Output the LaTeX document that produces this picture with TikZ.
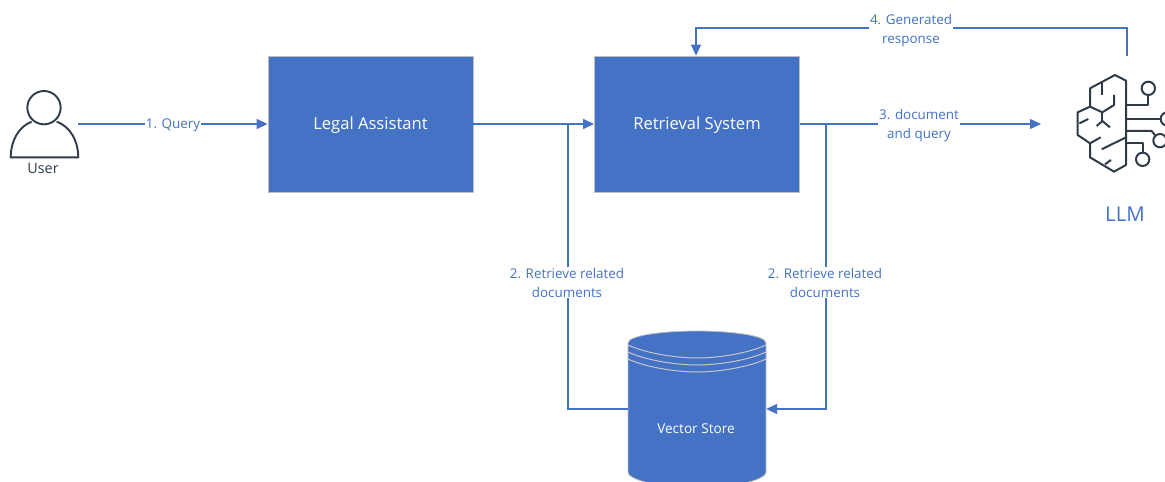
\documentclass[tikz,border=0pt]{standalone}
\usepackage{fontspec}
\setmainfont{Open Sans}
\usetikzlibrary{arrows.meta,calc}
\definecolor{blu}{HTML}{4472C4}
\definecolor{ink}{HTML}{2F3B4A}
\tikzset{
  x=1pt,y=-1pt,
  box/.style={draw=black!25,line width=.8pt,fill=blu,text=white,minimum width=205pt,minimum height=136pt,inner sep=0pt,font=\fontsize{16.6}{18}\selectfont},
  conn/.style={draw=blu,line width=1.4pt,-{Triangle[length=11pt,width=10pt]}},
  plainconn/.style={draw=blu,line width=1.4pt},
  lab/.style={text=blu,fill=white,align=center,inner sep=1pt,font=\fontsize{13.4}{19}\selectfont},
  icon/.style={draw=ink,line width=2pt,line join=round},
}
\begin{document}
\begin{tikzpicture}
\useasboundingbox (0,0) rectangle (1165,482);
\clip (0,0) rectangle (1165,482);
% nodes
\node[box] (legal) at (370.5,124) {\raisebox{-5.5pt}[0pt][0pt]{Legal Assistant}};
\node[box] (retr) at (697,124) {\raisebox{-5.5pt}[0pt][0pt]{Retrieval System}};
\node[minimum width=138pt,minimum height=156pt,inner sep=0pt] (vs) at (697,409) {};
\coordinate (j1) at (568,124);
\coordinate (j2) at (826,124);
\coordinate (userout) at (78,124);
\coordinate (llmin) at (1041,124);
\coordinate (llmout) at (1127,56);
\coordinate (llmturn) at (1127,28);
% vector store
\draw[draw=black!25,line width=.8pt,fill=blu]
  (628,343) .. controls (628,335) and (666,331) .. (697,331)
  .. controls (728,331) and (766,335) .. (766,343)
  -- (766,472) .. controls (766,478) and (750,482) .. (740,484)
  -- (654,484) .. controls (644,482) and (628,478) .. (628,472) -- cycle;
\foreach \d in {0,7,14}{
  \draw[draw=black!22,line width=1pt] (628,{345+\d}) .. controls (645,{353+\d}) and (675,{358+\d}) .. (697,{358+\d})
    .. controls (719,{358+\d}) and (749,{353+\d}) .. (766,{345+\d});
}
\node[text=white,font=\fontsize{13.6}{15}\selectfont] (vstext) at (696,429) {Vector Store};
% connectors
\draw[conn] (userout) -- (legal.west);
\draw[conn] (legal.east) -- (retr.west);
\draw[plainconn] (vs.west) -| (j1);
\draw[plainconn] (retr.east) -- (j2);
\draw[conn] (j2) |- (vs.east);
\draw[conn] (retr.east) -- (llmin);
\draw[conn] (llmout) -- (llmturn) -| (retr.north-|696,56);
% labels
\node[lab] (l1) at (173,125.5) {1. Query};
\node[lab] (l2a) at (567,282.5) {2. Retrieve related\\documents};
\node[lab] (l2b) at (825,282.5) {2. Retrieve related\\documents};
\node[lab] (l3) at (919,126) {3. document\\and query};
\node[lab] (l4) at (911,31) {4. Generated\\response};
% user icon
\begin{scope}[shift={(0,70)},x=.3333pt,y=-.3333pt]
  \draw[icon,line width=1.9pt] (132,113) circle[radius=50];
  \draw[icon,line width=1.9pt] (95,155) .. controls (55,170) and (32,215) .. (32,262) -- (235,262)
     .. controls (235,215) and (212,170) .. (170,155);
\end{scope}
\node[text=ink,font=\fontsize{14.4}{16}\selectfont] (user) at (43,168.5) {User};
% brain icon
\begin{scope}[shift={(1040,50)},x=.3333pt,y=-.3333pt]
  \draw[icon] (258,92) -- (258,345) -- (222,365) -- (150,322) -- (150,280) -- (113,255) -- (113,187)
     -- (150,170) -- (150,115) -- (225,75) -- cycle;
  \draw[icon] (187,95) -- (187,135);
  \draw[icon] (150,170) -- (187,187) -- (222,165) -- (222,135);
  \draw[icon] (187,187) -- (187,213);
  \draw[icon] (170,228) -- (187,213) -- (210,232);
  \draw[icon] (118,220) -- (145,207);
  \draw[icon] (150,280) -- (182,262);
  \draw[icon] (185,298) -- (258,262);
  \draw[icon] (195,343) -- (213,330);
  \draw[icon] (258,165) -- (325,165) -- (325,135);
  \draw[icon] (325,115) circle[radius=20];
  \draw[icon] (258,207) -- (362,207);
  \draw[icon] (382,207) circle[radius=20];
  \draw[icon] (258,243) -- (335,243) -- (346,257);
  \draw[icon] (360,272) circle[radius=20];
  \draw[icon] (258,280) -- (308,280) -- (308,308);
  \draw[icon] (308,328) circle[radius=20];
\end{scope}
\node[text=blu,font=\fontsize{20.4}{24}\selectfont] (llm) at (1125,214.5) {LLM};
\end{tikzpicture}
\end{document}
